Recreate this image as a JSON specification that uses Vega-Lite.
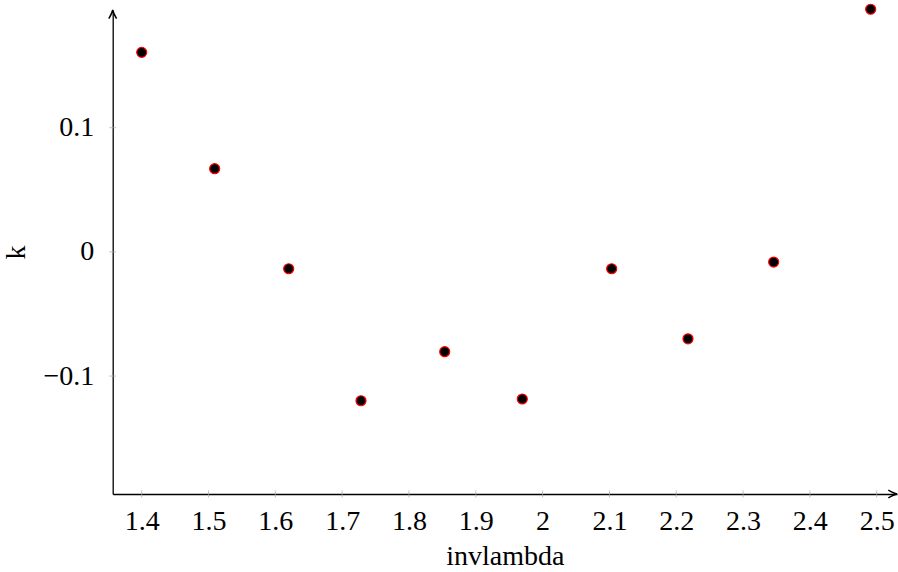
{
  "$schema": "https://vega.github.io/schema/vega-lite/v6.json",
  "autosize": {"type": "none"},
  "width": 784.3,
  "height": 484,
  "padding": {"left": 112.7, "top": 10, "right": 1, "bottom": 78},
  "config": {
    "view": {"stroke": null},
    "font": "Liberation Serif",
    "axis": {"labelFont": "Liberation Serif", "titleFont": "Liberation Serif", "labelColor": "black", "titleColor": "black", "titleFontWeight": "normal", "grid": false}
  },
  "datasets": {
    "points": [
      {"invlambda": 1.4, "k": 0.1607},
      {"invlambda": 1.5092, "k": 0.0670},
      {"invlambda": 1.62, "k": -0.0136},
      {"invlambda": 1.7282, "k": -0.1199},
      {"invlambda": 1.8535, "k": -0.0804},
      {"invlambda": 1.9696, "k": -0.1185},
      {"invlambda": 2.1034, "k": -0.0136},
      {"invlambda": 2.2176, "k": -0.0700},
      {"invlambda": 2.3458, "k": -0.0082},
      {"invlambda": 2.491, "k": 0.1954}
    ],
    "xticks": [
      {"v": 1.4}, {"v": 1.5}, {"v": 1.6}, {"v": 1.7}, {"v": 1.8}, {"v": 1.9},
      {"v": 2.0}, {"v": 2.1}, {"v": 2.2}, {"v": 2.3}, {"v": 2.4}, {"v": 2.5}
    ],
    "yticks": [{"v": -0.1}, {"v": 0}, {"v": 0.1}]
  },
  "layer": [
    {
      "data": {"name": "xticks"},
      "mark": {"type": "tick", "orient": "vertical", "size": 7, "thickness": 1, "color": "#a8a8a8"},
      "encoding": {
        "x": {"field": "v", "type": "quantitative", "scale": {"domain": [1.3566, 2.5304], "nice": false, "zero": false},
          "axis": {"title": "invlambda", "values": [1.4, 1.5, 1.6, 1.7, 1.8, 1.9, 2.0, 2.1, 2.2, 2.3, 2.4, 2.5], "format": ".1~f", "ticks": false, "labelPadding": 13, "labelFontSize": 28, "titleFontSize": 28, "titlePadding": 7, "domainColor": "black", "domainWidth": 1.3, "labelFlush": false, "labelOverlap": false}},
        "y": {"datum": -0.195, "type": "quantitative"}
      }
    },
    {
      "data": {"name": "yticks"},
      "mark": {"type": "tick", "orient": "horizontal", "size": 7, "thickness": 1, "color": "#a8a8a8"},
      "encoding": {
        "y": {"field": "v", "type": "quantitative", "scale": {"domain": [-0.195, 0.1948], "nice": false, "zero": false},
          "axis": {"title": "k", "values": [-0.1, 0, 0.1], "format": ".1~f", "ticks": false, "labelPadding": 19, "labelFontSize": 28, "titleFontSize": 28, "titlePadding": 12, "domainColor": "black", "domainWidth": 1.3, "labelFlush": false, "labelOverlap": false}},
        "x": {"datum": 1.3566, "type": "quantitative"}
      }
    },
    {
      "data": {"values": [{"ax": 2.5304, "ay": -0.195}]},
      "mark": {"type": "point", "shape": "M -1 -0.45 C -0.6 -0.22 -0.25 -0.05 0 0 C -0.25 0.05 -0.6 0.22 -1 0.45", "size": 300, "filled": false, "color": "black", "strokeWidth": 1.5, "opacity": 1},
      "encoding": {"x": {"field": "ax", "type": "quantitative"}, "y": {"field": "ay", "type": "quantitative"}}
    },
    {
      "data": {"values": [{"ax": 1.3566, "ay": 0.1948}]},
      "mark": {"type": "point", "shape": "M -0.45 1 C -0.22 0.6 -0.05 0.25 0 0 C 0.05 0.25 0.22 0.6 0.45 1", "size": 300, "filled": false, "color": "black", "strokeWidth": 1.5, "opacity": 1},
      "encoding": {"x": {"field": "ax", "type": "quantitative"}, "y": {"field": "ay", "type": "quantitative"}}
    },
    {
      "data": {"name": "points"},
      "mark": {"type": "point", "filled": true, "fill": "black", "stroke": "red", "strokeWidth": 1.2, "size": 100, "opacity": 1},
      "encoding": {
        "x": {"field": "invlambda", "type": "quantitative"},
        "y": {"field": "k", "type": "quantitative"}
      }
    }
  ]
}
